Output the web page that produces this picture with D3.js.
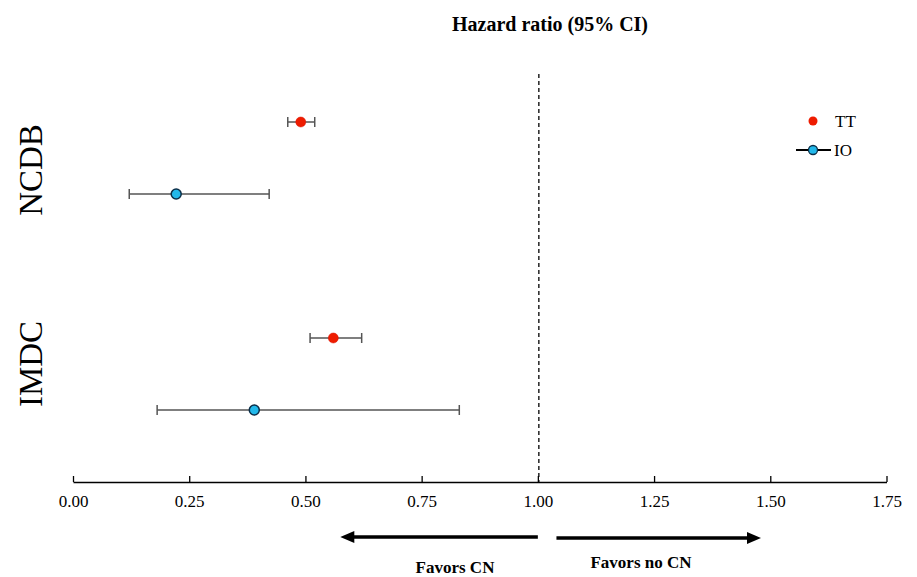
<!DOCTYPE html>
<html>
<head>
<meta charset="utf-8">
<script src="https://cdn.jsdelivr.net/npm/d3@7"></script>
<style>
  body { margin: 0; background: #fff; }
  svg { font-family: "Liberation Serif", "Times New Roman", serif; }
</style>
</head>
<body>
<svg id="chart" width="917" height="577"></svg>
<script>
// data
var groups = ["NCDB", "IMDC"];
var series = ["TT", "IO"];
var hr    = { NCDB: [0.49, 0.222], IMDC: [0.56, 0.39] };
var lower = { NCDB: [0.462, 0.121], IMDC: [0.51, 0.181] };
var upper = { NCDB: [0.52, 0.422], IMDC: [0.621, 0.831] };
var tickValues = [0, 0.25, 0.5, 0.75, 1, 1.25, 1.5, 1.75];

var colors = { TT: "#ee1c00", IO: "#22b8ea" };

var svg = d3.select("#chart");

var x = d3.scaleLinear().domain([0, 1.75]).range([73, 886.5]);
var yGroup = d3.scaleBand().domain(groups).range([50, 482]).paddingInner(0);
var ySeries = d3.scalePoint().domain(series).range([-36, 36]);

function yPos(g, s) { return yGroup(g) + yGroup.bandwidth() / 2 + ySeries(s); }

var rows = [];
groups.forEach(function(g) {
  series.forEach(function(s, i) {
    rows.push({ group: g, series: s, hr: hr[g][i], lo: lower[g][i], hi: upper[g][i] });
  });
});

// title
svg.append("text")
  .attr("x", 550).attr("y", 31)
  .attr("text-anchor", "middle")
  .attr("font-weight", "bold")
  .attr("font-size", 20)
  .text("Hazard ratio (95% CI)");

// reference line at HR = 1
svg.append("line")
  .attr("x1", x(1) + 1).attr("x2", x(1) + 1)
  .attr("y1", 74).attr("y2", 482)
  .attr("stroke", "#000")
  .attr("stroke-width", 1.3)
  .attr("stroke-dasharray", "4,3");

// x axis
var axis = svg.append("g")
  .attr("transform", "translate(0,482)")
  .call(d3.axisBottom(x)
    .tickValues(tickValues)
    .tickFormat(d3.format(".2f"))
    .tickSizeInner(-6)
    .tickSizeOuter(0)
    .tickPadding(13));
axis.select(".domain").attr("stroke-width", 1.5);
axis.selectAll(".tick line").attr("stroke-width", 1.3);
axis.selectAll(".tick text")
  .attr("font-family", "Liberation Serif, serif")
  .attr("font-size", 17)
  .attr("fill", "#000");

// group labels (rotated)
var labelShift = { NCDB: 12, IMDC: -10 };
svg.selectAll(".glabel")
  .data(groups)
  .enter().append("text")
  .attr("class", "glabel")
  .attr("transform", function(d) {
    return "translate(42," + (yGroup(d) + yGroup.bandwidth() / 2 + labelShift[d]) + ") rotate(-90)";
  })
  .attr("text-anchor", "middle")
  .attr("font-size", 33)
  .text(function(d) { return d; });

// error bars
var bars = svg.selectAll(".ci")
  .data(rows)
  .enter().append("g")
  .attr("class", "ci")
  .attr("transform", function(d) { return "translate(0," + yPos(d.group, d.series) + ")"; });

bars.append("line")
  .attr("x1", function(d) { return x(d.lo); })
  .attr("x2", function(d) { return x(d.hi); })
  .attr("stroke", "#555").attr("stroke-width", 1.5);

bars.append("line")
  .attr("x1", function(d) { return x(d.lo); })
  .attr("x2", function(d) { return x(d.lo); })
  .attr("y1", -5).attr("y2", 5)
  .attr("stroke", "#555").attr("stroke-width", 1.5);

bars.append("line")
  .attr("x1", function(d) { return x(d.hi); })
  .attr("x2", function(d) { return x(d.hi); })
  .attr("y1", -5).attr("y2", 5)
  .attr("stroke", "#555").attr("stroke-width", 1.5);

bars.append("circle")
  .attr("cx", function(d) { return x(d.hr); })
  .attr("r", 5)
  .attr("fill", function(d) { return colors[d.series]; })
  .attr("stroke", function(d) { return d.series === "IO" ? "#0b2e48" : "#dd1100"; })
  .attr("stroke-width", function(d) { return d.series === "IO" ? 1.5 : 0.5; });

// legend
var legend = svg.append("g").attr("transform", "translate(813,0)");
legend.append("circle").attr("cx", 0).attr("cy", 121).attr("r", 4.5).attr("fill", colors.TT);
legend.append("text").attr("x", 22).attr("y", 127).attr("font-size", 17).text("TT");
legend.append("line").attr("x1", -17).attr("x2", 18).attr("y1", 150).attr("y2", 150)
  .attr("stroke", "#000").attr("stroke-width", 2);
legend.append("circle").attr("cx", 0).attr("cy", 150).attr("r", 4.5)
  .attr("fill", colors.IO).attr("stroke", "#0b2e48").attr("stroke-width", 1.3);
legend.append("text").attr("x", 21).attr("y", 156).attr("font-size", 17).text("IO");

// favour arrows
var arrows = [
  { from: 1.0, to: 0.575, y: 537, label: "Favors CN", ly: 573, lx: 455 },
  { from: 1.04, to: 1.48, y: 538, label: "Favors no CN", ly: 568, lx: 641 }
];
arrows.forEach(function(a) {
  var x0 = x(a.from), x1 = x(a.to);
  var dir = x1 > x0 ? 1 : -1;
  svg.append("line")
    .attr("x1", x0).attr("x2", x1 - dir * 8)
    .attr("y1", a.y).attr("y2", a.y)
    .attr("stroke", "#000").attr("stroke-width", 3.5);
  svg.append("path")
    .attr("d", "M" + x1 + "," + a.y + "L" + (x1 - dir * 14) + "," + (a.y - 6) +
               "L" + (x1 - dir * 14) + "," + (a.y + 6) + "Z")
    .attr("fill", "#000");
  svg.append("text")
    .attr("x", a.lx).attr("y", a.ly)
    .attr("text-anchor", "middle")
    .attr("font-weight", "bold")
    .attr("font-size", 17)
    .text(a.label);
});
</script>
</body>
</html>
